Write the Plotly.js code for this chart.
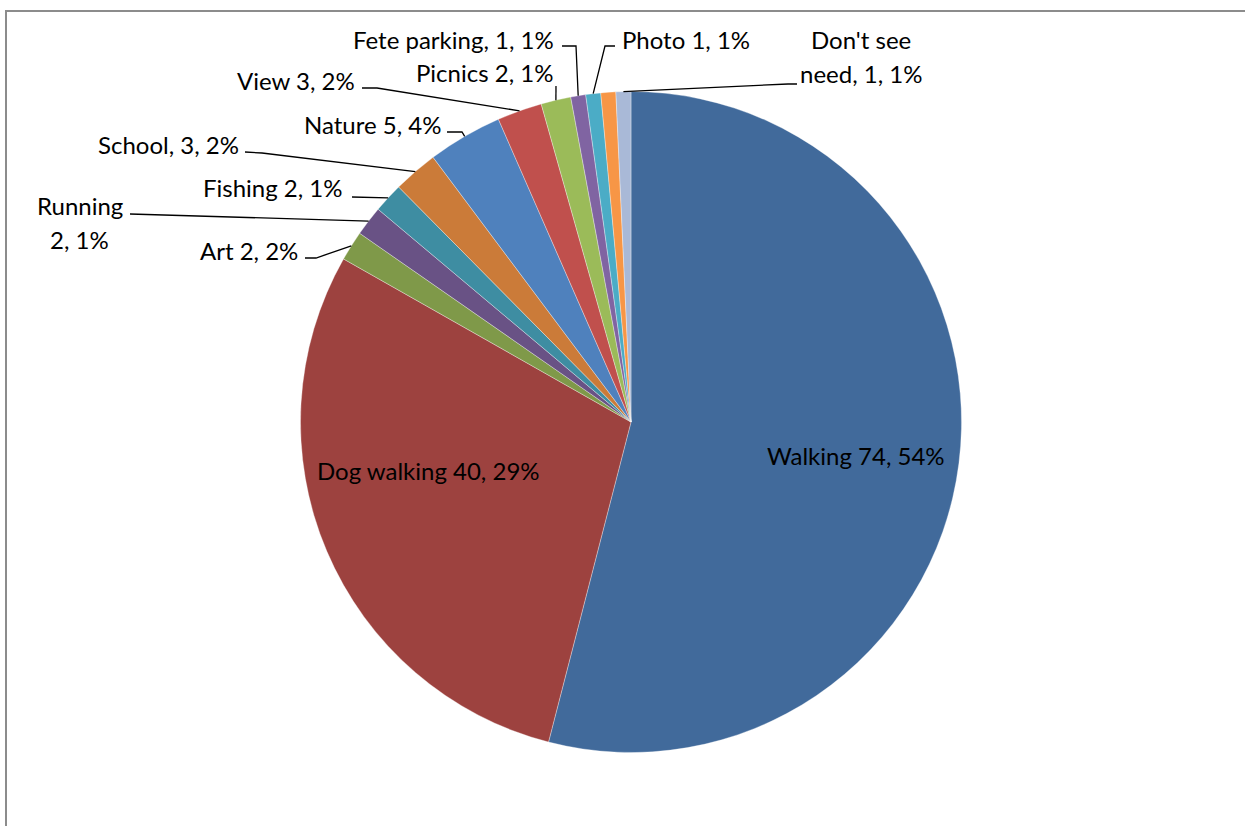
<!DOCTYPE html>
<html>
<head>
<meta charset="utf-8">
<script src="https://cdn.plot.ly/plotly-3.0.1.min.js"></script>
<style>html,body{margin:0;padding:0;background:#fff;}#chart{width:1245px;height:826px;}</style>
</head>
<body>
<div id="chart"></div>
<script>
// ---- data ----
var categories = ["Walking", "Dog walking", "Art", "Running", "Fishing", "School", "Nature", "View", "Picnics", "Fete parking", "Photo", "", "Don't see need"];
var values = [74, 40, 2, 2, 2, 3, 5, 3, 2, 1, 1, 1, 1];
var labelTexts = ["Walking 74, 54%", "Dog walking 40, 29%", "Art 2, 2%", "Running\n2, 1%", "Fishing 2, 1%", "School, 3, 2%", "Nature 5, 4%", "View 3, 2%", "Picnics 2, 1%", "Fete parking, 1, 1%", "Photo 1, 1%", "", "Don't see\nneed, 1, 1%"];
var sliceColors = ["#416A9B", "#9D423F", "#7F9949", "#695285", "#3E8DA2", "#CB7B39", "#4F81BD", "#C0504D", "#9BBB59", "#8064A2", "#4BACC6", "#F79646", "#A9B9D7"];

// ---- layout constants (pixels) ----
var W = 1245, H = 826;
var CX = 631, CY = 422, R = 330.5;
var LINE_GAP = 33;
// label placement: anchor x, y of first text line, xanchor, elbow points of leader line
var labelPlace = [
  {x: 856, y: 455, xa: "center", pts: null},
  {x: 429, y: 470, xa: "center", pts: null},
  {x: 300, y: 250, xa: "right", pts: [[305, 258], [316, 258]]},
  {x: 80,  y: 206, xa: "center", pts: [[130, 214]]},
  {x: 345, y: 188, xa: "right", pts: [[352, 197]]},
  {x: 241, y: 145, xa: "right", pts: [[245, 152], [262, 153]]},
  {x: 443, y: 124, xa: "right", pts: [[447, 132], [462, 132]]},
  {x: 357, y: 80,  xa: "right", pts: [[362, 88], [377, 88]]},
  {x: 555, y: 72,  xa: "right", pts: [[556, 86]]},
  {x: 556, y: 39,  xa: "right", pts: [[562, 46], [576, 46]]},
  {x: 620, y: 40,  xa: "left", pts: [[615, 46], [605, 46]]},
  null,
  {x: 861, y: 40,  xa: "center", pts: [[797, 84], [788, 84]]}
];

function px2x(p) { return p / W; }
function px2y(p) { return 1 - p / H; }

var total = values.reduce(function (a, b) { return a + b; }, 0);
var annotations = [];
var shapes = [];
var cum = 0;
for (var i = 0; i < values.length; i++) {
  var mid = (cum + values[i] / 2) / total * 2 * Math.PI;
  cum += values[i];
  var place = labelPlace[i];
  if (!place || !labelTexts[i]) continue;
  var lines = labelTexts[i].split("\n");
  lines.forEach(function (t, k) {
    annotations.push({
      x: px2x(place.x), y: px2y(place.y + k * LINE_GAP),
      xref: "paper", yref: "paper", xanchor: place.xa, yanchor: "middle",
      text: t, showarrow: false,
      font: {family: "Lato, 'Open Sans', sans-serif", size: 24, color: "#000"}
    });
  });
  if (place.pts) {
    var ex = CX + R * Math.sin(mid), ey = CY - R * Math.cos(mid);
    var pts = place.pts.concat([[ex, ey]]);
    var d = pts.map(function (p, j) { return (j ? "L" : "M") + px2x(p[0]).toFixed(5) + "," + px2y(p[1]).toFixed(5); }).join(" ");
    shapes.push({type: "path", xref: "paper", yref: "paper", path: d, line: {color: "#000", width: 1.3}});
  }
}

// frame border (left and top)
shapes.push({type: "path", xref: "paper", yref: "paper",
  path: "M" + px2x(6) + "," + px2y(H + 5) + " L" + px2x(6) + "," + px2y(11) + " L" + px2x(W + 5) + "," + px2y(11),
  line: {color: "#8C8C8C", width: 2}});

var trace = {
  type: "pie",
  labels: categories.map(function (c, i) { return c || "(unlabelled)"; }),
  values: values,
  sort: false,
  direction: "clockwise",
  rotation: 0,
  textinfo: "none",
  hoverinfo: "label+value+percent",
  marker: {colors: sliceColors, line: {color: "rgba(255,255,255,0.55)", width: 0.6}},
  domain: {x: [px2x(CX - R), px2x(CX + R)], y: [px2y(CY + R), px2y(CY - R)]},
  showlegend: false
};

var layout = {
  width: W, height: H,
  margin: {l: 0, r: 0, t: 0, b: 0},
  paper_bgcolor: "#fff",
  showlegend: false,
  annotations: annotations,
  shapes: shapes
};

Plotly.newPlot("chart", [trace], layout, {displayModeBar: false, staticPlot: true});
</script>
</body>
</html>
